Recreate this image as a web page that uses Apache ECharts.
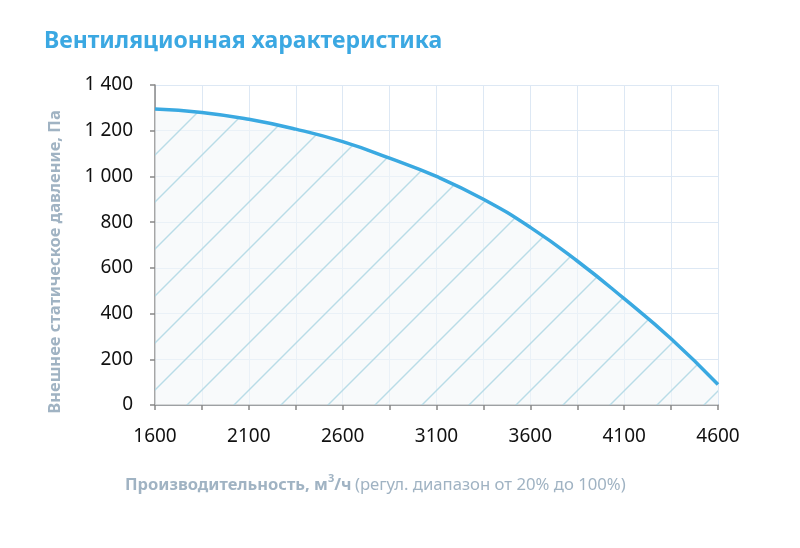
<!DOCTYPE html>
<html lang="ru">
<head>
<meta charset="UTF-8">
<title>Вентиляционная характеристика</title>
<script src="https://cdn.jsdelivr.net/npm/echarts@6/dist/echarts.min.js"></script>
<style>
  html, body { margin: 0; padding: 0; background: #fff; }
  #main { width: 800px; height: 548px; }
</style>
</head>
<body>
<div id="main"></div>
<script>
// расход воздуха, м3/ч
var flow = [1600, 1850, 2100, 2350, 2600, 2850, 3100, 3350, 3600, 3850, 4100, 4350, 4600];
// статическое давление, Па
var pressure = [1295, 1280, 1250, 1207, 1152, 1080, 1000, 900, 777, 630, 465, 290, 90];
var xLabels = [1600, 2100, 2600, 3100, 3600, 4100, 4600];

var font = '"Noto Sans", "Open Sans", sans-serif';
var nameColor = '#a0b3c3';

// штриховка под кривой
function hatch() {
  var s = 47, c = 28;
  var cv = document.createElement('canvas');
  cv.width = s; cv.height = s;
  var ctx = cv.getContext('2d');
  ctx.fillStyle = 'rgba(244,246,249,0.6)';
  ctx.fillRect(0, 0, s, s);
  ctx.strokeStyle = 'rgba(170,212,226,0.8)';
  ctx.lineWidth = 1.4;
  for (var k = -1; k <= 2; k++) {
    var d = c + k * s;
    ctx.beginPath();
    ctx.moveTo(-2, d + 2);
    ctx.lineTo(s + 2, d - s - 2);
    ctx.stroke();
  }
  return cv;
}

var points = [];
for (var i = 0; i < flow.length; i++) points.push([flow[i], pressure[i]]);

var chart = echarts.init(document.getElementById('main'));
chart.setOption({
  animation: false,
  title: {
    text: 'Вентиляционная характеристика',
    left: 39, top: 25,
    textStyle: { color: '#3ba8e2', fontSize: 23, fontWeight: 'bold', fontFamily: font }
  },
  grid: { left: 155, right: 82, top: 85, bottom: 143 },
  xAxis: {
    type: 'value', min: 1600, max: 4600, interval: 250,
    axisLine: { lineStyle: { color: '#888', width: 1.5 } },
    axisTick: { show: true, length: 5, lineStyle: { color: '#888', width: 1.5 } },
    axisLabel: {
      margin: 22, color: '#111', fontSize: 19, fontFamily: font,
      formatter: function (v) { return xLabels.indexOf(v) >= 0 ? String(v) : ''; }
    },
    splitLine: { show: true, lineStyle: { color: '#dde8f4', width: 1 } }
  },
  yAxis: {
    type: 'value', min: 0, max: 1400, interval: 200,
    axisLine: { show: true, lineStyle: { color: '#888', width: 1.5 } },
    axisTick: { show: true, length: 5, lineStyle: { color: '#888', width: 1.5 } },
    axisLabel: {
      margin: 22, color: '#111', fontSize: 19, fontFamily: font,
      formatter: function (v) { return String(v).replace(/\B(?=(\d{3})+(?!\d))/g, ' '); }
    },
    splitLine: { show: true, lineStyle: { color: '#dde8f4', width: 1 } }
  },
  graphic: [{
    type: 'text', x: 55, y: 262, rotation: Math.PI / 2,
    style: {
      text: 'Внешнее статическое давление, Па',
      fill: nameColor, fontSize: 16.5, fontWeight: 'bold', fontFamily: font,
      align: 'center', verticalAlign: 'middle'
    }
  }, {
    type: 'text', left: 125, top: 473,
    style: {
      text: '{b|Производительность, м}{sup|3}{b|/ч} {n|(регул. диапазон от 20% до 100%)}',
      rich: {
        b: { fontSize: 16.5, fontWeight: 'bold', fill: nameColor, fontFamily: font, lineHeight: 24 },
        sup: { fontSize: 11, fontWeight: 'bold', fill: nameColor, fontFamily: font, verticalAlign: 'top', lineHeight: 24, padding: [0, 0, 9, 0] },
        n: { fontSize: 16.7, fill: nameColor, fontFamily: font, lineHeight: 24 }
      }
    }
  }],
  series: [{
    type: 'line',
    data: points,
    smooth: true,
    symbol: 'none',
    lineStyle: { color: '#3aa9e1', width: 3.5 },
    areaStyle: { color: { image: hatch(), repeat: 'repeat' }, opacity: 1 }
  }]
});
</script>
</body>
</html>
